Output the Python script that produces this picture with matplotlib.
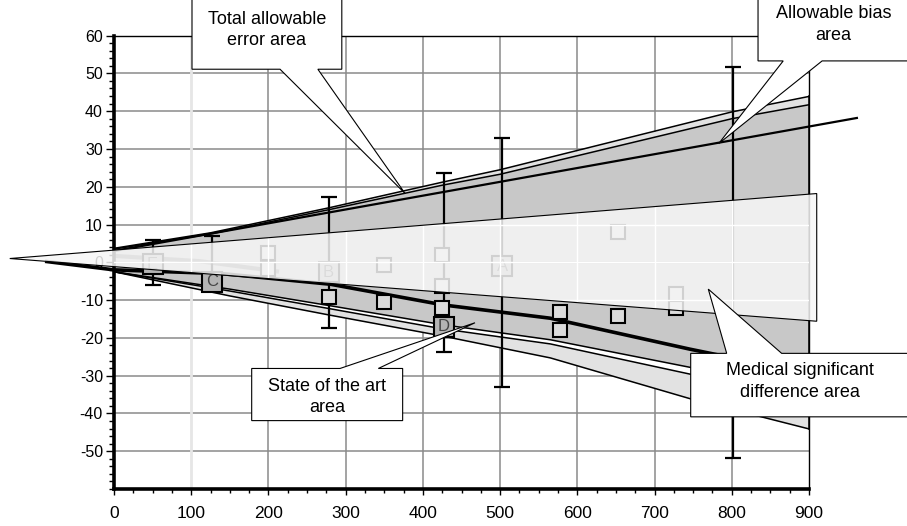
import numpy as np
import matplotlib.pyplot as plt
from matplotlib.patches import Polygon
from matplotlib.ticker import MultipleLocator

plt.rcParams['font.family'] = ['Liberation Sans', 'DejaVu Sans']
plt.rcParams['axes.unicode_minus'] = False

# upper limit curves
x_hi = [0, 125, 280, 425, 500, 800, 900]
tae_hi = [3.7, 7.8, 14.5, 21.2, 24.5, 39.8, 43.9]
sota_hi = [3.5, 7.5, 14.0, 20.4, 23.3, 38.0, 41.7]

# lower limit curves
x_lo = [0, 150, 280, 425, 565, 746, 900]
sota_lo = [-2.5, -7.1, -11.5, -16.5, -20.5, -27.8, -33.5]
sota_lo2 = [-2.5, -7.6, -12.3, -17.6, -21.6, -29.6, -35.5]
tae_lo = [-2.5, -8.9, -14.0, -19.5, -25.3, -36.1, -44.1]

# allowable bias line
bias_x = [0, 962]
bias_y = [3.0, 38.2]

# observed bias trend
trend_x = [-87, 0, 140, 280, 427, 565, 746, 830]
trend_y = [0.2, -2.0, -3.0, -5.8, -11.3, -14.8, -23.0, -26.5]

# low-end trend inside the wedge
low_x = [0, 111, 211]
low_y = [1.7, 0.3, -2.4]

# medical significant difference wedge
msd_x = [-135, 910, 910]
msd_y = [1.0, 18.2, -15.6]

# samples
pt_x = [200, 200, 278, 350, 350, 425, 425, 425, 578, 578, 653, 653, 728, 728]
pt_y = [2.4, -1.8, -9.1, -0.8, -10.4, 1.9, -6.2, -12.1, -13.1, -18.0, 8.0, -14.3, -8.3, -12.1]

lab_x = [50, 127, 278, 503, 427]
lab_y = [-0.5, -5.1, -2.6, -1.1, -17.1]
lab_txt = ['E', 'C', 'B', 'A', 'D']

err_x = [50, 127, 278, 427, 503, 802]
err_y = [0, 0, 0, 0, 0, 0]
err_h = [6.0, 7.0, 17.4, 23.7, 33.0, 51.7]


def callout(ax, box, base, tip, text, ty, side):
    x0, x1, y0, y1 = box
    b1, b2 = base
    if side == 'bottom':
        pts = [(x0, y1), (x1, y1), (x1, y0), (b2, y0), tip, (b1, y0), (x0, y0)]
    else:
        pts = [(x0, y0), (x0, y1), (b1, y1), tip, (b2, y1), (x1, y1), (x1, y0)]
    ax.add_patch(Polygon(pts, closed=True, fc='white', ec='black', lw=0.8,
                         clip_on=False, zorder=10))
    ax.text((x0 + x1) / 2, ty, text, ha='center', va='center', fontsize=13,
            linespacing=1.35, zorder=11, clip_on=False)


fig = plt.figure(figsize=(9.07, 5.26), dpi=100)
ax = fig.add_axes([114 / 907, 37 / 526, 695 / 907, 453.4 / 526])
ax.set_xlim(0, 900)
ax.set_ylim(-60, 60)

# grid
for gy in range(-50, 60, 10):
    ax.axhline(gy, color='#8a8a8a', lw=1.1, zorder=0.5)
for gx in range(200, 900, 100):
    ax.axvline(gx, color='#8a8a8a', lw=1.1, zorder=0.5)
ax.axvline(100, color='#e6e6e6', lw=2, zorder=0.5)

# bands
ax.fill(np.r_[x_hi, x_lo[::-1]], np.r_[sota_hi, sota_lo[::-1]],
        color='#c8c8c8', lw=0, zorder=1)
ax.fill_between(x_hi, sota_hi, tae_hi, color='#e2e2e2', lw=0, zorder=1)
ax.fill_between(x_lo, sota_lo, sota_lo2, color='white', lw=0, zorder=1)
ax.fill_between(x_lo, sota_lo2, tae_lo, color='#e2e2e2', lw=0, zorder=1)
for xs, ys in [(x_hi, tae_hi), (x_hi, sota_hi), (x_lo, sota_lo),
               (x_lo, sota_lo2), (x_lo, tae_lo)]:
    ax.plot(xs, ys, color='black', lw=1.1, zorder=2)
ax.plot([900, 900], [tae_lo[-1], tae_hi[-1]], color='black', lw=1.1, zorder=2)

ax.axhline(0, color='#555555', lw=1, zorder=2)
ax.plot(low_x, low_y, color='#777777', lw=3, zorder=2)
ax.plot(bias_x, bias_y, color='black', lw=1.6, zorder=2.6, clip_on=False)
ax.plot(trend_x, trend_y, color='black', lw=2.6, zorder=2.6, clip_on=False)

# samples with error bars
ax.errorbar(err_x, err_y, yerr=err_h, fmt='none', ecolor='black',
            elinewidth=1.6, capsize=5.5, capthick=1.6, zorder=3)
ax.plot(pt_x, pt_y, 's', ms=10, mfc='#dcdcdc', mec='black', mew=1.5,
        zorder=3.2)
ax.plot(lab_x, lab_y, 's', ms=14.5, mfc='#b4b4b4', mec='black', mew=1.5,
        zorder=3.2)
for lx, ly, lt in zip(lab_x, lab_y, lab_txt):
    ax.text(lx, ly, lt, ha='center', va='center', fontsize=12,
            color='#444444', zorder=3.3)

# medical significant difference wedge, drawn translucent over the samples
wedge = Polygon(np.column_stack([msd_x, msd_y]), closed=True, fc='#f6f6f6',
                ec='none', alpha=0.85, clip_on=False, zorder=4)
ax.add_patch(wedge)
for gy in range(-10, 20, 10):
    ln = ax.axhline(gy, color='white', lw=1, zorder=4.2)
    ln.set_clip_path(wedge)
for gx in range(100, 901, 100):
    ln = ax.axvline(gx, color='white', lw=1, zorder=4.2)
    ln.set_clip_path(wedge)
ax.add_patch(Polygon(np.column_stack([msd_x, msd_y]), closed=True, fc='none',
                     ec='black', lw=0.8, clip_on=False, zorder=4.3))

# axes styling
ax.spines['left'].set_linewidth(2.6)
ax.spines['bottom'].set_linewidth(2.6)
ax.spines['top'].set_linewidth(1.0)
ax.spines['right'].set_linewidth(1.0)
ax.set_xticks(range(0, 901, 100))
ax.set_yticks(range(-50, 61, 10))
ax.xaxis.set_minor_locator(MultipleLocator(25))
ax.yaxis.set_minor_locator(MultipleLocator(2))
ax.tick_params(axis='both', which='both', direction='out', width=1)
ax.tick_params(axis='y', which='major', length=6, pad=2, labelsize=11.5)
ax.tick_params(axis='y', which='minor', length=3.5)
ax.tick_params(axis='x', which='major', length=4, pad=8, labelsize=12.5)
ax.tick_params(axis='x', which='minor', length=3)

# callouts
callout(ax, (101, 295, 51.1, 70.5), (215, 264), (377, 18.2),
        'Total allowable\nerror area', 61.5, 'bottom')
callout(ax, (834, 1030, 53.3, 70.5), (866.6, 917), (783, 31.4),
        'Allowable bias\narea', 62.9, 'bottom')
callout(ax, (178.3, 373.8, -41.9, -28.1), (292.7, 342.3), (467.5, -16.0),
        'State of the art\narea', -35.6, 'top')
callout(ax, (746.8, 1030, -40.9, -24.1), (793.4, 864.6), (769.6, -7.1),
        'Medical significant\ndifference area', -31.6, 'top')

fig.savefig('out.png', dpi=100)
